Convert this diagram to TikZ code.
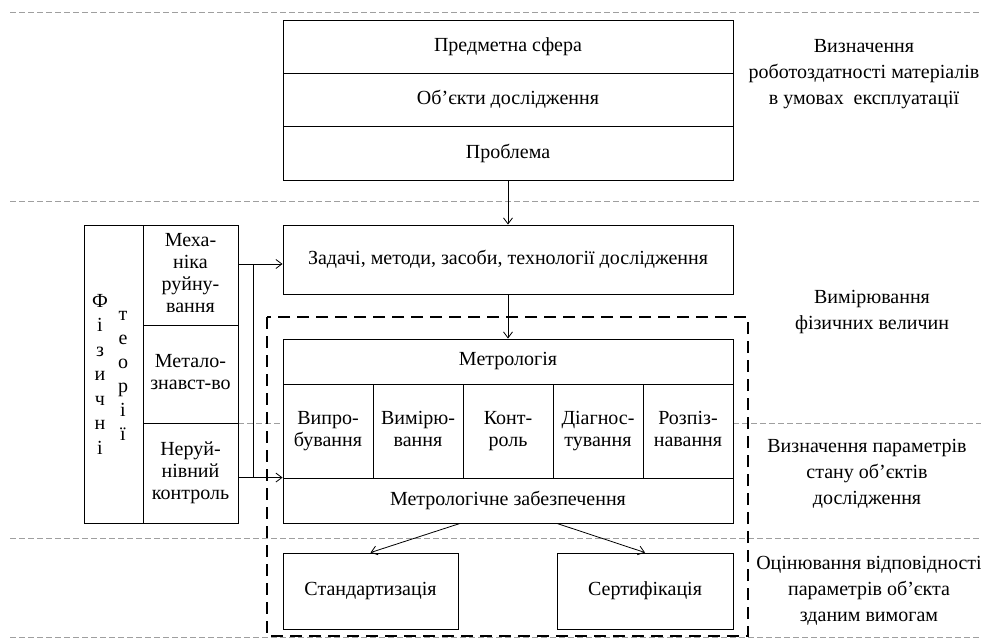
\documentclass[tikz,border=0pt]{standalone}
\usepackage{fontspec}
\setmainfont{Liberation Serif}
\usetikzlibrary{arrows.meta,calc}
\begin{document}
\begin{tikzpicture}[x=1pt,y=-1pt,
  font=\fontsize{20}{22}\selectfont,
  cell/.style={draw, line width=0.9pt, inner sep=0pt, align=center},
  guide/.style={draw=gray!75, line width=0.9pt, dash pattern=on 6pt off 3pt},
  bigdash/.style={draw=black, line width=2.8pt, dash pattern=on 12pt off 7pt},
  arr/.style={draw, line width=0.8pt, -{Straight Barb[length=6pt,width=9pt]}},
  conn/.style={draw, line width=0.8pt},
  lbl/.style={align=center, font=\fontsize{20}{26}\selectfont}]
\useasboundingbox (0,0) rectangle (981,639);
% guide lines
\draw[guide] (10,12) -- (981,12);
\draw[guide] (10,201) -- (981,201);
\draw[guide] (238,423) -- (283,423);
\draw[guide] (733,423) -- (981,423);
\draw[guide] (10,538) -- (981,538);
\draw[guide] (10,637) -- (981,637);
% big dashed frame
\draw[bigdash] (267,317) rectangle (748,636);
% top stack
\node[cell, minimum width=450pt, minimum height=53pt, fill=white] (p1) at (508,46.5) {Предметна сфера};
\node[cell, minimum width=450pt, minimum height=53pt, fill=white] (p2) at (508,99.5) {Об’єкти дослідження};
\node[cell, minimum width=450pt, minimum height=54pt, fill=white] (p3) at (508,153) {Проблема};
\node[cell, minimum width=450pt, minimum height=69pt, fill=white] (zad) at (508,259.5) {Задачі, методи, засоби, технології дослідження};
% metrology
\node[cell, minimum width=450pt, minimum height=45pt, fill=white] (metr) at (508,361.5) {Метрологія};
\node[cell, minimum width=90pt, minimum height=94pt, fill=white] (c1) at (328,431) {\strut Випро-\\бування\strut};
\node[cell, minimum width=90pt, minimum height=94pt, fill=white] (c2) at (418,431) {\strut Вимірю-\\вання\strut};
\node[cell, minimum width=90pt, minimum height=94pt, fill=white] (c3) at (508,431) {\strut Конт-\\роль\strut};
\node[cell, minimum width=90pt, minimum height=94pt, fill=white] (c4) at (598,431) {\strut Діагнос-\\тування\strut};
\node[cell, minimum width=90pt, minimum height=94pt, fill=white] (c5) at (688,431) {\strut Розпіз-\\навання\strut};
\node[cell, minimum width=450pt, minimum height=45pt, fill=white] (zab) at (508,500.5) {Метрологічне забезпечення};
\node[cell, minimum width=175pt, minimum height=76pt, fill=white] (std) at (370.5,591) {Стандартизація};
\node[cell, minimum width=176pt, minimum height=76pt, fill=white] (sert) at (645,591) {Сертифікація};
% theories
\node[cell, minimum width=59pt, minimum height=298pt] (fiz) at (113.5,374) {};
\node[align=center, inner sep=0pt, font=\fontsize{20}{24.5}\selectfont] (fizt) at (100,376) {\strut Ф\\і\\з\\и\\ч\\н\\і\strut};
\node[align=center, inner sep=0pt, font=\fontsize{20}{24}\selectfont] (teor) at (123,376) {\strut т\\е\\о\\р\\і\\ї\strut};
\node[cell, minimum width=95pt, minimum height=100pt] (mech) at (190.5,275) {\strut Меха-\\ніка\\руйну-\\вання\strut};
\node[cell, minimum width=95pt, minimum height=98pt] (metal) at (190.5,374) {\strut Метало-\\знавст-во\strut};
\node[cell, minimum width=95pt, minimum height=100pt] (nerui) at (190.5,473) {\strut Неруй-\\нівний\\контроль\strut};
% connectors
\draw[arr] (p3.south) -- (zad.north);
\draw[arr] (zad.south) -- (metr.north);
\coordinate (j1) at (253,264);
\coordinate (j2) at (253,478);
\draw[arr] (mech.east |- j1) -- (zad.west |- j1);
\draw[arr] (nerui.east |- zab.north west) -- (zab.north west);
\draw[conn] (j1) -- (j2);
\draw[arr] ([xshift=-48pt]zab.south) -- (std.north);
\draw[arr] ([xshift=49pt]zab.south) -- (sert.north);
% right labels
\node[lbl] (l1) at (864,73) {\strut Визначення\\роботоздатності матеріалів\\в умовах \ експлуатації\strut};
\node[lbl] (l2) at (872,311) {\strut Вимірювання\\фізичних величин\strut};
\node[lbl] (l3) at (867,473) {\strut Визначення параметрів\\стану об’єктів\\дослідження\strut};
\node[lbl] (l4) at (869,590) {\strut Оцінювання відповідності\\параметрів об’єкта\\зданим вимогам\strut};
\end{tikzpicture}
\end{document}
